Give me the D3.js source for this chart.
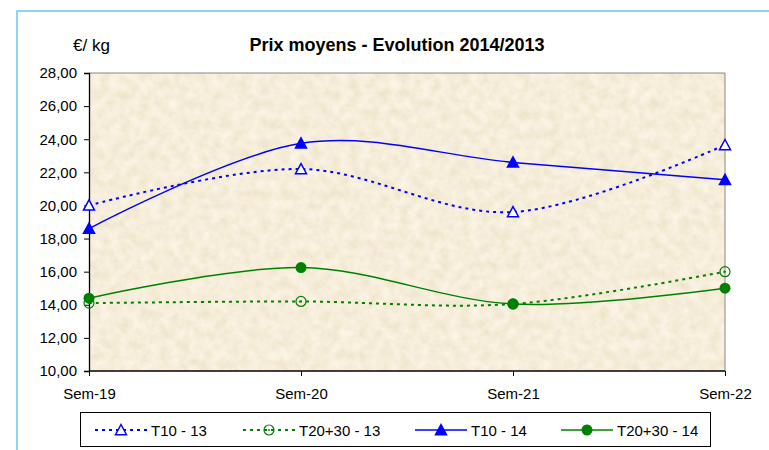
<!DOCTYPE html>
<html><head><meta charset="utf-8">
<script src="https://cdn.jsdelivr.net/npm/d3@7"></script>
<style>body{margin:0;background:#fff}svg{display:block;font-family:"Liberation Sans",Arial,sans-serif}</style>
</head><body>
<svg id="c" width="769" height="450"></svg>
<script>
const categories = ["Sem-19","Sem-20","Sem-21","Sem-22"];
const t10_13 = [20.0, 22.2, 19.6, 23.65];
const t2030_13 = [14.1, 14.2, 14.05, 16.0];
const t10_14 = [18.6, 23.75, 22.6, 21.55];
const t2030_14 = [14.4, 16.25, 14.05, 15.0];
const yTicks = [10,12,14,16,18,20,22,24,26,28];
const title = "Prix moyens - Evolution 2014/2013";
const unit = "€/ kg";

const series = [
  {name:"T10 - 13", values:t10_13, color:"#0000ff", dotted:true, marker:"triOpen"},
  {name:"T20+30 - 13", values:t2030_13, color:"#008000", dotted:true, marker:"circOpen"},
  {name:"T10 - 14", values:t10_14, color:"#0000ff", dotted:false, marker:"tri"},
  {name:"T20+30 - 14", values:t2030_14, color:"#008000", dotted:false, marker:"circ"}
];

const svg = d3.select("#c");
const defs = svg.append("defs");
const f = defs.append("filter").attr("id","tex").attr("x",0).attr("y",0).attr("width","100%").attr("height","100%");
f.append("feTurbulence").attr("type","fractalNoise").attr("baseFrequency","0.1").attr("numOctaves",4).attr("seed",7).attr("result","n");
f.append("feColorMatrix").attr("in","n").attr("type","matrix")
 .attr("values","0.16 0 0 0 0.84  0.20 0 0 0 0.75  0.30 0 0 0 0.55  0 0 0 0 1");

// outer frame
svg.append("rect").attr("x",17).attr("y",11).attr("width",800).attr("height",500)
  .attr("fill","#fff").attr("stroke","#8dd5f1").attr("stroke-width",2);

const L=89, R=725, T=73, B=371;
const x = d3.scalePoint().domain(categories).range([L,R]);
const y = d3.scaleLinear().domain([10,28]).range([B,T]);

svg.append("rect").attr("x",L).attr("y",T).attr("width",R-L).attr("height",B-T).attr("fill","#eadab2");
svg.append("rect").attr("x",L).attr("y",T).attr("width",R-L).attr("height",B-T).attr("filter","url(#tex)");
svg.append("path").attr("d",`M${L},${T}H${R}V${B}`).attr("fill","none").attr("stroke","#888").attr("stroke-width",1);

// axes
const ya = svg.append("g").attr("transform",`translate(${L},0)`)
  .call(d3.axisLeft(y).tickValues(yTicks).tickSize(5).tickPadding(7).tickFormat(d=>d3.format(".2f")(d).replace(".",",")));
const xa = svg.append("g").attr("transform",`translate(0,${B})`)
  .call(d3.axisBottom(x).tickSize(5).tickPadding(12));
[ya,xa].forEach(a=>{
  a.select(".domain").attr("stroke","#000").attr("stroke-width",1.3);
  a.selectAll(".tick line").attr("stroke","#000");
  a.selectAll("text").attr("font-size",15).attr("fill","#000").attr("font-family","Liberation Sans, Arial, sans-serif");
});
xa.select(".domain").attr("d",`M${L},0H${R}`);

// lines
const line = d3.line().x((d,i)=>x(categories[i])).y(d=>y(d)).curve(d3.curveCardinal.tension(0));
function marker(g, type, color, cx, cy){
  if(type==="tri"||type==="triOpen"){
    const s=5.5;
    g.append("path").attr("d",`M${cx},${cy-s}L${cx+s},${cy+s*0.85}L${cx-s},${cy+s*0.85}Z`)
     .attr("fill",type==="tri"?color:"#fff").attr("stroke",color).attr("stroke-width",1.5);
  } else if(type==="circ"){
    g.append("circle").attr("cx",cx).attr("cy",cy).attr("r",5.5).attr("fill",color);
  } else {
    g.append("circle").attr("cx",cx).attr("cy",cy).attr("r",5).attr("fill","none").attr("stroke",color).attr("stroke-width",1.2);
    g.append("circle").attr("cx",cx).attr("cy",cy).attr("r",0.9).attr("fill",color);
  }
}
series.forEach(s=>{
  svg.append("path").datum(s.values).attr("d",line).attr("fill","none").attr("stroke",s.color)
    .attr("stroke-width",s.dotted?2:1.5).attr("stroke-dasharray",s.dotted?"3,4":null);
});
series.forEach(s=>{
  const g=svg.append("g");
  s.values.forEach((v,i)=>marker(g,s.marker,s.color,x(categories[i]),y(v)));
});

// titles
svg.append("text").attr("x",397).attr("y",51).attr("text-anchor","middle").attr("font-size",18).attr("font-weight","bold").text(title);
svg.append("text").attr("x",73).attr("y",51).attr("font-size",17).text(unit);

// legend
svg.append("rect").attr("x",80.5).attr("y",412.5).attr("width",630).attr("height",34).attr("fill","#fff").attr("stroke","#000").attr("stroke-width",1);
const legX=[95,243,415,561];
series.forEach((s,i)=>{
  const g=svg.append("g");
  const x0=legX[i], yy=430;
  g.append("line").attr("x1",x0).attr("x2",x0+52).attr("y1",yy).attr("y2",yy).attr("stroke",s.color)
   .attr("stroke-width",s.dotted?2:1.5).attr("stroke-dasharray",s.dotted?"3,4":null);
  marker(g,s.marker,s.color,x0+26,yy);
  g.append("text").attr("x",x0+56).attr("y",yy+5.5).attr("font-size",15).text(s.name);
});
</script>
</body></html>
